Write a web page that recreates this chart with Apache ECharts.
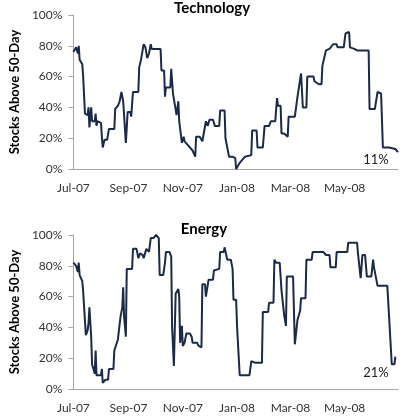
<!DOCTYPE html>
<html>
<head>
<meta charset="utf-8">
<script src="https://cdn.jsdelivr.net/npm/echarts@6/dist/echarts.min.js"></script>
<style>
  html, body { margin: 0; padding: 0; background: #fff; }
  #chart { width: 400px; height: 418px; }
</style>
</head>
<body>
<div id="chart"></div>
<script>
// Technology: % of stocks above 50-day moving average
const techDates = [
  '2007-07-01','2007-07-03','2007-07-04','2007-07-06','2007-07-07','2007-07-08','2007-07-10','2007-07-11',
  '2007-07-12','2007-07-14','2007-07-17','2007-07-18','2007-07-19','2007-07-21','2007-07-22','2007-07-25',
  '2007-07-26','2007-07-27','2007-07-28','2007-08-01','2007-08-02','2007-08-03','2007-08-05','2007-08-08',
  '2007-08-10','2007-08-16','2007-08-17','2007-08-20','2007-08-22','2007-08-24','2007-08-26','2007-08-29',
  '2007-08-31','2007-09-03','2007-09-04','2007-09-06','2007-09-12','2007-09-13','2007-09-15','2007-09-16',
  '2007-09-18','2007-09-20','2007-09-22','2007-09-24','2007-09-26','2007-09-27','2007-10-07','2007-10-08',
  '2007-10-11','2007-10-12','2007-10-13','2007-10-18','2007-10-19','2007-10-21','2007-10-23','2007-10-25',
  '2007-10-27','2007-10-28','2007-10-31','2007-11-02','2007-11-03','2007-11-06','2007-11-12','2007-11-15',
  '2007-11-16','2007-11-20','2007-11-23','2007-11-25','2007-11-27','2007-11-29','2007-12-01','2007-12-05',
  '2007-12-07','2007-12-12','2007-12-13','2007-12-18','2007-12-19','2007-12-21','2007-12-23','2007-12-27',
  '2007-12-30','2007-12-31','2008-01-02','2008-01-04','2008-01-10','2008-01-11','2008-01-17','2008-01-18',
  '2008-01-23','2008-01-24','2008-01-30','2008-02-01','2008-02-06','2008-02-08','2008-02-13','2008-02-15',
  '2008-02-16','2008-02-19','2008-02-20','2008-02-23','2008-02-27','2008-02-28','2008-03-06','2008-03-09',
  '2008-03-13','2008-03-15','2008-03-19','2008-03-20','2008-03-27','2008-03-28','2008-04-02','2008-04-05',
  '2008-04-06','2008-04-08','2008-04-10','2008-04-14','2008-04-18','2008-04-22','2008-04-23','2008-04-30',
  '2008-05-02','2008-05-06','2008-05-07','2008-05-12','2008-05-15','2008-05-28','2008-05-29','2008-06-04',
  '2008-06-07','2008-06-11','2008-06-13','2008-06-20','2008-06-27','2008-06-30'
];
const techValues = [
  76, 75, 79, 75, 80, 71, 71, 68,
  60, 36, 35, 40, 27, 40, 31, 31,
  36, 28, 31, 30, 21, 14, 19, 19,
  26, 26, 39, 41, 44, 50, 44, 17,
  37, 37, 34, 50, 50, 66, 71, 72,
  81, 79, 72, 75, 81, 78, 78, 64,
  64, 47, 53, 53, 65, 49, 42, 35,
  44, 31, 17, 21, 18, 16, 12, 8,
  21, 21, 18, 18, 31, 28, 32, 32,
  28, 28, 38, 38, 20, 20, 8, 8,
  7, 0, 0, 4, 8, 9, 9, 25,
  25, 14, 14, 28, 28, 31, 31, 46,
  41, 41, 23, 23, 21, 34, 34, 47,
  62, 40, 40, 60, 60, 57, 55, 55,
  67, 67, 77, 78, 81, 81, 79, 79,
  88, 89, 79, 78, 77, 77, 39, 39,
  50, 49, 14, 14, 13, 11
];

// Energy
const energyDates = [
  '2007-07-01','2007-07-04','2007-07-05','2007-07-06','2007-07-07','2007-07-08','2007-07-11','2007-07-12',
  '2007-07-13','2007-07-15','2007-07-17','2007-07-18','2007-07-19','2007-07-21','2007-07-22','2007-07-24',
  '2007-07-25','2007-07-26','2007-07-27','2007-08-01','2007-08-02','2007-08-03','2007-08-05','2007-08-06',
  '2007-08-09','2007-08-10','2007-08-15','2007-08-16','2007-08-18','2007-08-20','2007-08-23','2007-08-25',
  '2007-08-26','2007-08-27','2007-08-29','2007-08-30','2007-09-05','2007-09-06','2007-09-10','2007-09-12',
  '2007-09-14','2007-09-17','2007-09-18','2007-09-21','2007-09-24','2007-09-26','2007-09-29','2007-10-02',
  '2007-10-04','2007-10-05','2007-10-06','2007-10-10','2007-10-12','2007-10-13','2007-10-17','2007-10-19',
  '2007-10-20','2007-10-22','2007-10-24','2007-10-27','2007-10-28','2007-10-29','2007-10-31','2007-11-01',
  '2007-11-03','2007-11-05','2007-11-09','2007-11-11','2007-11-12','2007-11-17','2007-11-19','2007-11-22',
  '2007-11-23','2007-11-26','2007-11-27','2007-11-29','2007-11-30','2007-12-05','2007-12-06','2007-12-12',
  '2007-12-13','2007-12-17','2007-12-18','2007-12-20','2007-12-21','2007-12-25','2007-12-27','2007-12-28',
  '2007-12-31','2008-01-01','2008-01-03','2008-01-04','2008-01-15','2008-01-17','2008-01-22','2008-01-29',
  '2008-01-30','2008-02-05','2008-02-06','2008-02-11','2008-02-12','2008-02-14','2008-02-18','2008-02-20',
  '2008-02-21','2008-02-23','2008-02-25','2008-02-26','2008-03-04','2008-03-06','2008-03-09','2008-03-12',
  '2008-03-13','2008-03-18','2008-03-19','2008-03-25','2008-03-26','2008-04-07','2008-04-10','2008-04-14',
  '2008-04-15','2008-04-21','2008-04-22','2008-05-04','2008-05-05','2008-05-15','2008-05-16','2008-05-19',
  '2008-05-21','2008-05-24','2008-05-26','2008-05-31','2008-06-02','2008-06-03','2008-06-05','2008-06-07',
  '2008-06-18','2008-06-23','2008-06-26','2008-06-27'
];
const energyValues = [
  82, 80, 78, 76, 82, 74, 70, 63,
  63, 35, 38, 43, 53, 34, 16, 12,
  10, 25, 9, 9, 13, 4, 4, 6,
  6, 13, 13, 25, 25, 32, 47, 53,
  66, 47, 34, 78, 78, 91, 91, 85,
  88, 87, 85, 91, 89, 98, 98, 100,
  100, 98, 74, 74, 82, 89, 89, 86,
  40, 15, 62, 65, 60, 30, 41, 28,
  30, 36, 36, 34, 30, 30, 28, 27,
  68, 68, 60, 60, 71, 71, 77, 78,
  89, 89, 92, 92, 84, 84, 78, 58,
  58, 41, 41, 9, 9, 18, 17, 17,
  50, 50, 56, 56, 84, 82, 82, 64,
  63, 48, 41, 73, 73, 29, 45, 51,
  59, 59, 84, 84, 89, 89, 87, 87,
  79, 79, 89, 89, 95, 95, 88, 72,
  87, 87, 73, 73, 84, 79, 79, 67,
  67, 16, 16, 21
];

const xTickDates = ['2007-07-01','2007-09-01','2007-11-01','2008-01-01','2008-03-01','2008-05-01'];
const xTickLabels = ['Jul-07','Sep-07','Nov-07','Jan-08','Mar-08','May-08'];
const xMin = '2007-07-01';
const xMax = '2008-06-30';

function ts(s) {
  const p = s.split('-');
  return new Date(+p[0], +p[1] - 1, +p[2]).getTime();
}
const tickTs = xTickDates.map(ts);

const lineColor = '#1b2a47';
const axisColor = '#a6a6a6';
const textColor = '#333';
const font = 'Lato';

function makeX(i) {
  return {
    type: 'value',
    gridIndex: i,
    min: ts(xMin),
    max: ts(xMax),
    axisLine: { lineStyle: { color: axisColor, width: 1 } },
    axisTick: { show: false },
    splitLine: { show: false },
    axisLabel: {
      customValues: tickTs,
      margin: 13,
      color: textColor,
      fontFamily: font,
      fontSize: 12,
      hideOverlap: false,
      formatter: function (v) {
        let best = 0;
        for (let k = 1; k < tickTs.length; k++) {
          if (Math.abs(tickTs[k] - v) < Math.abs(tickTs[best] - v)) best = k;
        }
        return xTickLabels[best];
      }
    }
  };
}

function makeY(i) {
  return {
    type: 'value',
    gridIndex: i,
    min: 0,
    max: 100,
    interval: 20,
    name: 'Stocks Above 50-Day',
    nameLocation: 'middle',
    nameGap: 32,
    nameTextStyle: { fontFamily: font, fontSize: 13, fontWeight: 'bold', color: '#000' },
    axisLine: { show: true, lineStyle: { color: axisColor, width: 1 } },
    axisTick: { show: true, length: 5, lineStyle: { color: axisColor } },
    splitLine: { show: false },
    axisLabel: { formatter: '{value}%', margin: 11, color: textColor, fontFamily: font, fontSize: 12 }
  };
}

function pairs(dates, values) {
  return dates.map(function (d, k) { return [ts(d), values[k]]; });
}

function makeSeries(i, dates, values) {
  return {
    type: 'line',
    xAxisIndex: i,
    yAxisIndex: i,
    data: pairs(dates, values),
    showSymbol: false,
    symbol: 'none',
    lineStyle: { color: lineColor, width: 2 },
    silent: true
  };
}

const chart = echarts.init(document.getElementById('chart'), null, { renderer: 'canvas' });
chart.setOption({
  animation: false,
  backgroundColor: '#fff',
  grid: [
    { left: 49, top: 15, width: 349, height: 154 },
    { left: 49, top: 235, width: 349, height: 154 }
  ],
  xAxis: [makeX(0), makeX(1)],
  yAxis: [makeY(0), makeY(1)],
  series: [
    makeSeries(0, techDates, techValues),
    makeSeries(1, energyDates, energyValues)
  ],
  graphic: [
    { type: 'text', x: 212, y: 8, style: { text: 'Technology', font: 'bold 15px Lato', fill: '#000', textAlign: 'center', textVerticalAlign: 'middle' } },
    { type: 'text', x: 204, y: 229, style: { text: 'Energy', font: 'bold 15px Lato', fill: '#000', textAlign: 'center', textVerticalAlign: 'middle' } },
    { type: 'text', x: 376, y: 160, style: { text: '11%', font: '13px Lato', fill: '#222', textAlign: 'center', textVerticalAlign: 'middle' } },
    { type: 'text', x: 376, y: 373, style: { text: '21%', font: '13px Lato', fill: '#222', textAlign: 'center', textVerticalAlign: 'middle' } }
  ]
});
</script>
</body>
</html>
